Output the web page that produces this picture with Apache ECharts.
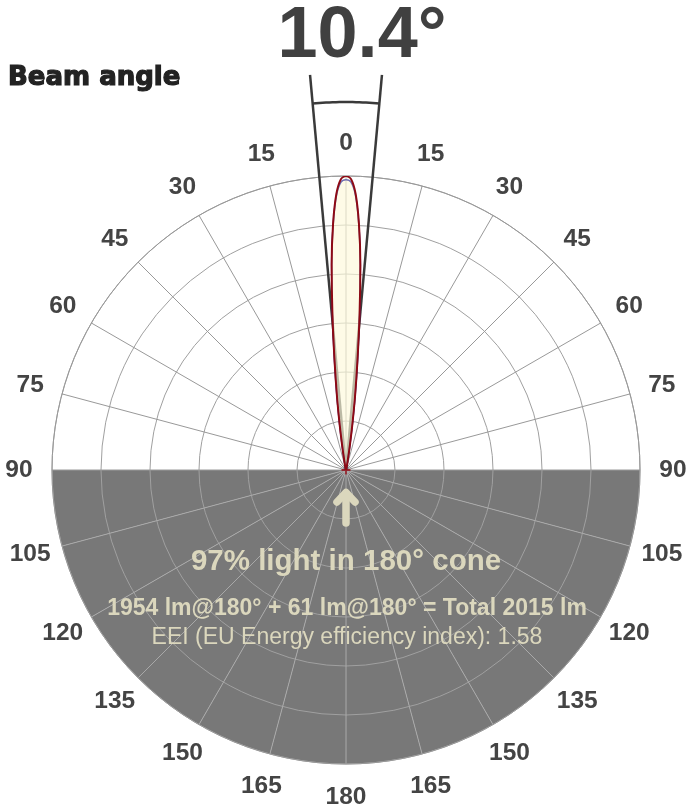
<!DOCTYPE html>
<html>
<head>
<meta charset="utf-8">
<script src="https://cdn.jsdelivr.net/npm/echarts@6/dist/echarts.min.js"></script>
<style>html,body{margin:0;padding:0;background:#fff}#c{width:691px;height:810px}</style>
</head>
<body>
<div id="c"></div>
<script>
// ---------------- data ----------------
const BEAM_ANGLE = 10.4;                       // degrees
const ANGLES   = [0, 1, 2, 3, 4, 5, 6, 7, 8, 9, 10, 12, 15, 20, 30, 45, 60, 75, 90, 105, 120, 135, 150, 165, 180];
const RED_CD   = [24000, 23750, 22550, 20150, 16800, 12700, 8900, 6000, 3600, 1900, 960, 360, 120, 50, 25, 12, 5, 2, 0, 0, 0, 0, 0, 0, 0];
const BLUE_CD  = [23700, 23500, 22400, 20050, 16800, 12800, 9050, 6150, 3700, 1950, 1000, 380, 125, 50, 25, 12, 5, 2, 0, 0, 0, 0, 0, 0, 0];
const TICK_ANGLES = [0, 15, 30, 45, 60, 75, 90, 105, 120, 135, 150, 165, 180, 195, 210, 225, 240, 255, 270, 285, 300, 315, 330, 345];
const TICK_LABELS = ['0', '15', '30', '45', '60', '75', '90', '105', '120', '135', '150', '165', '180', '165', '150', '135', '120', '105', '90', '75', '60', '45', '30', '15'];
const RADIUS_MAX = 24000;
const RING_STEP = 4000;
const TITLE_TEXT = '10.4°';
const SUBTITLE_TEXT = 'Beam angle';
const INFO_LINES = ['97% light in 180° cone', '1954 lm@180° + 61 lm@180° = Total 2015 lm', 'EEI (EU Energy efficiency index): 1.58'];

// ---------------- style ----------------
const CX = 346, CY = 470, R = 294;
const BRACKET_R = 397;             // px, outer end of the beam-angle bracket
const ARC_FRACTION = 368 / 397;    // arc position along the bracket
const LABEL_R_FACTOR = 327 / 294;
const CREAM = '#dbd7bd';
const FONT = '"Liberation Sans", Arial, Helvetica, sans-serif';

function lobe(values) {
  const pts = [];
  for (let i = ANGLES.length - 1; i >= 0; i--) pts.push([values[i], ANGLES[i]]);
  for (let i = 1; i < ANGLES.length; i++) pts.push([values[i], 360 - ANGLES[i]]);
  return pts;
}
const half = BEAM_ANGLE / 2;
const arcPts = [];
for (let k = 0; k <= 20; k++) {
  const a = -half + k * half / 10;
  arcPts.push([ARC_FRACTION, a < 0 ? 360 + a : a]);
}

const areaColors = [];
for (let i = 0; i < 24; i++) areaColors.push(i >= 6 && i < 18 ? '#787878' : '#ffffff');
const spokeColors = [];
for (let i = 0; i <= 24; i++) spokeColors.push(i > 6 && i < 18 ? '#a9a9a9' : '#999999');

const hiddenAxis = {axisLine: {show: false}, axisTick: {show: false}, axisLabel: {show: false}, splitLine: {show: false}, splitArea: {show: false}};

const chart = echarts.init(document.getElementById('c'), null, {renderer: 'canvas'});
const option = {
  animation: false,
  backgroundColor: '#ffffff',
  polar: [
    {center: [CX, CY], radius: R},          // background halves
    {center: [CX, CY], radius: R},          // grid + data
    {center: [CX, CY], radius: BRACKET_R}   // beam-angle bracket
  ],
  angleAxis: [
    Object.assign({polarIndex: 0, type: 'value', min: 0, max: 360, interval: 15, startAngle: 90, clockwise: true, z: 0},
      hiddenAxis, {splitArea: {show: true, areaStyle: {color: areaColors, opacity: 1}}}),
    {polarIndex: 1, type: 'value', min: 0, max: 360, interval: 15, startAngle: 90, clockwise: true, z: 1,
     axisLine: {show: true, lineStyle: {color: '#999999', width: 1, type: 'solid'}},
     axisTick: {show: false}, axisLabel: {show: false},
     splitLine: {show: true, lineStyle: {color: spokeColors, width: 1, type: 'solid'}},
     splitArea: {show: false}},
    Object.assign({polarIndex: 2, type: 'value', min: 0, max: 360, interval: 15, startAngle: 90, clockwise: true, z: 0}, hiddenAxis)
  ],
  radiusAxis: [
    Object.assign({polarIndex: 0, type: 'value', min: 0, max: RADIUS_MAX, interval: RING_STEP, z: 0}, hiddenAxis),
    {polarIndex: 1, type: 'value', min: 0, max: RADIUS_MAX, interval: RING_STEP, z: 1,
     axisLine: {show: false}, axisTick: {show: false}, axisLabel: {show: false},
     splitLine: {show: true, lineStyle: {color: '#a0a0a0', width: 1, type: 'solid'}},
     splitArea: {show: false}},
    Object.assign({polarIndex: 2, type: 'value', min: 0, max: 1, interval: 0.5, z: 0}, hiddenAxis)
  ],
  series: [
    {type: 'line', coordinateSystem: 'polar', polarIndex: 2, clip: false, symbol: 'none', silent: true, z: 3,
     data: [[0, half], [1, half]], lineStyle: {color: '#3a3a3a', width: 2.5}},
    {type: 'line', coordinateSystem: 'polar', polarIndex: 2, clip: false, symbol: 'none', silent: true, z: 3,
     data: [[0, 360 - half], [1, 360 - half]], lineStyle: {color: '#3a3a3a', width: 2.5}},
    {type: 'line', coordinateSystem: 'polar', polarIndex: 2, clip: false, symbol: 'none', silent: true, z: 3,
     data: arcPts, lineStyle: {color: '#3a3a3a', width: 2.5}},
    {type: 'line', coordinateSystem: 'polar', polarIndex: 1, clip: false, symbol: 'none', smooth: 0.3, z: 4,
     data: lobe(BLUE_CD), lineStyle: {color: '#22229a', width: 1.5},
     areaStyle: {color: 'rgba(250,246,215,0.7)'}},
    {type: 'line', coordinateSystem: 'polar', polarIndex: 1, clip: false, symbol: 'none', smooth: 0.3, z: 5,
     data: lobe(RED_CD), lineStyle: {color: '#8e0a14', width: 2},
     areaStyle: {color: 'rgba(255,251,225,0.5)'}},
    {type: 'scatter', coordinateSystem: 'polar', polarIndex: 1, clip: false, z: 6,
     symbol: 'path://M4,0h2v4h4v2h-4v4h-2v-4h-4v-2h4z', symbolSize: 9,
     itemStyle: {color: '#8e0a14'}, data: [[0, 0]]}
  ],
  graphic: [
    {type: 'text', z: 100, x: 362, y: 37, style: {text: TITLE_TEXT, fill: '#404040', font: 'bold 72px ' + FONT, align: 'center', verticalAlign: 'middle', textAlign: 'center', textVerticalAlign: 'middle'}},
    {type: 'text', z: 100, x: 8, y: 78, style: {text: SUBTITLE_TEXT, fill: '#222222', stroke: '#222222', lineWidth: 1.2, font: 'bold 26px "DejaVu Sans", sans-serif', align: 'left', verticalAlign: 'middle', textAlign: 'left', textVerticalAlign: 'middle'}},
    {type: 'text', z: 100, x: 346, y: 562, style: {text: INFO_LINES[0], fill: CREAM, font: 'bold 29.5px ' + FONT, align: 'center', verticalAlign: 'middle', textAlign: 'center', textVerticalAlign: 'middle'}},
    {type: 'text', z: 100, x: 347, y: 609, style: {text: INFO_LINES[1], fill: CREAM, font: 'bold 23px ' + FONT, align: 'center', verticalAlign: 'middle', textAlign: 'center', textVerticalAlign: 'middle'}},
    {type: 'text', z: 100, x: 347, y: 638, style: {text: INFO_LINES[2], fill: CREAM, font: '23px ' + FONT, align: 'center', verticalAlign: 'middle', textAlign: 'center', textVerticalAlign: 'middle'}},
    {type: 'line', z: 100, shape: {x1: 346, y1: 493, x2: 346, y2: 523}, style: {stroke: CREAM, lineWidth: 7.5, lineCap: 'round'}},
    {type: 'polyline', z: 100, shape: {points: [[337, 502], [346, 492.5], [355, 502]]}, style: {stroke: CREAM, lineWidth: 7.5, lineCap: 'round', lineJoin: 'round', fill: null}}
  ]
};
chart.setOption(option);

// tick labels placed through the polar coordinate system
const labelR = RADIUS_MAX * LABEL_R_FACTOR;
const labelEls = TICK_ANGLES.map((a, i) => {
  let p = null;
  try { p = chart.convertToPixel({polarIndex: 1}, [labelR, a]); } catch (e) { p = null; }
  if (!p || isNaN(p[0])) {
    const rad = a * Math.PI / 180;
    p = [CX + R * LABEL_R_FACTOR * Math.sin(rad), CY - R * LABEL_R_FACTOR * Math.cos(rad)];
  }
  return {type: 'text', x: p[0], y: p[1], z: 100,
    style: {text: TICK_LABELS[i], fill: '#444444', font: 'bold 24.5px ' + FONT,
      align: 'center', verticalAlign: 'middle', textAlign: 'center', textVerticalAlign: 'middle'}};
});
chart.setOption({graphic: option.graphic.concat(labelEls)});
</script>
</body>
</html>
